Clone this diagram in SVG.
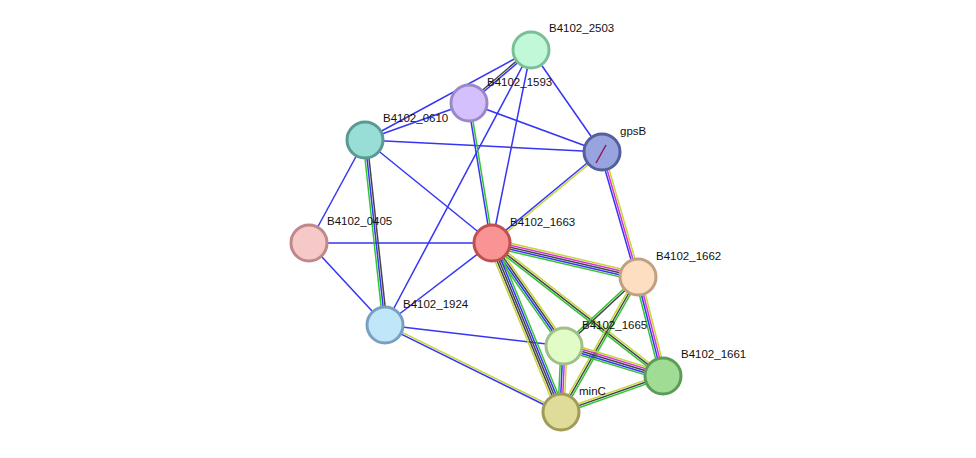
<svg xmlns="http://www.w3.org/2000/svg" width="976" height="458" viewBox="0 0 976 458">
<style>
line{stroke-width:1.5;fill:none}
.b{stroke:#3535f5}.g{stroke:#33c433}.y{stroke:#c4d63a}.m{stroke:#d633d6}.k{stroke:#454545}
circle{stroke-width:3}
text{font-family:"Liberation Sans",Arial,sans-serif;font-size:11.5px;fill:#111}
</style>
<rect width="976" height="458" fill="#fff"/>
<g id="connectors">
<line class="b" x1="531" y1="50" x2="365" y2="140"/>
<line class="b" x1="531" y1="50" x2="602" y2="152"/>
<line class="b" x1="531" y1="50" x2="492" y2="243"/>
<line class="b" x1="531" y1="50" x2="385" y2="325"/>
<line class="b" x1="469" y1="103" x2="365" y2="140"/>
<line class="b" x1="469" y1="103" x2="602" y2="152"/>
<line class="b" x1="365" y1="140" x2="602" y2="152"/>
<line class="b" x1="365" y1="140" x2="309" y2="243"/>
<line class="b" x1="365" y1="140" x2="492" y2="243"/>
<line class="b" x1="309" y1="243" x2="492" y2="243"/>
<line class="b" x1="309" y1="243" x2="385" y2="325"/>
<line class="b" x1="385" y1="325" x2="492" y2="243"/>
<line class="b" x1="385" y1="325" x2="564" y2="346"/>
<g transform="translate(531,50) rotate(139.5)"><line class="b" x1="0" y1="-1" x2="81.6" y2="-1"/><line class="k" x1="0" y1="1" x2="81.6" y2="1"/></g>
<g transform="translate(365,140) rotate(83.8)"><line class="k" x1="0" y1="-2" x2="186" y2="-2"/><line class="b" x1="0" y1="0" x2="186" y2="0"/><line class="g" x1="0" y1="2" x2="186" y2="2"/></g>
<g transform="translate(469,103) rotate(80.7)"><line class="b" x1="0" y1="1" x2="142" y2="1"/><line class="g" x1="0" y1="-1" x2="142" y2="-1"/></g>
<g transform="translate(602,152) rotate(140.4)"><line class="b" x1="0" y1="1" x2="143" y2="1"/><line class="y" x1="0" y1="-1" x2="143" y2="-1"/></g>
<g transform="translate(602,152) rotate(73.9)"><line class="b" x1="0" y1="2" x2="130" y2="2"/><line class="m" x1="0" y1="0" x2="130" y2="0"/><line class="y" x1="0" y1="-2" x2="130" y2="-2"/></g>
<g transform="translate(385,325) rotate(26.3)"><line class="b" x1="0" y1="1" x2="196" y2="1"/><line class="y" x1="0" y1="-1" x2="196" y2="-1"/></g>
<g transform="translate(492,243) rotate(13.1)"><line class="y" x1="0" y1="-4" x2="150" y2="-4"/><line class="m" x1="0" y1="-2" x2="150" y2="-2"/><line class="k" x1="0" y1="0" x2="150" y2="0"/><line class="b" x1="0" y1="2" x2="150" y2="2"/><line class="g" x1="0" y1="4" x2="150" y2="4"/></g>
<g transform="translate(492,243) rotate(55)"><line class="y" x1="0" y1="-3" x2="126" y2="-3"/><line class="k" x1="0" y1="-1" x2="126" y2="-1"/><line class="b" x1="0" y1="1" x2="126" y2="1"/><line class="g" x1="0" y1="3" x2="126" y2="3"/></g>
<g transform="translate(492,243) rotate(67.8)"><line class="g" x1="0" y1="-4" x2="182.5" y2="-4"/><line class="b" x1="0" y1="-2" x2="182.5" y2="-2"/><line class="k" x1="0" y1="0" x2="182.5" y2="0"/><line class="k" x1="0" y1="2" x2="182.5" y2="2"/><line class="y" x1="0" y1="4" x2="182.5" y2="4"/></g>
<g transform="translate(492,243) rotate(37.9)"><line class="y" x1="0" y1="-2" x2="216.6" y2="-2"/><line class="k" x1="0" y1="0" x2="216.6" y2="0"/><line class="g" x1="0" y1="2" x2="216.6" y2="2"/></g>
<g transform="translate(638,277) rotate(137)"><line class="k" x1="0" y1="-1" x2="101" y2="-1"/><line class="g" x1="0" y1="1" x2="101" y2="1"/></g>
<g transform="translate(638,277) rotate(119.7)"><line class="g" x1="0" y1="-2" x2="155.4" y2="-2"/><line class="k" x1="0" y1="0" x2="155.4" y2="0"/><line class="y" x1="0" y1="2" x2="155.4" y2="2"/></g>
<g transform="translate(638,277) rotate(75.8)"><line class="y" x1="0" y1="-3" x2="102" y2="-3"/><line class="m" x1="0" y1="-1" x2="102" y2="-1"/><line class="b" x1="0" y1="1" x2="102" y2="1"/><line class="g" x1="0" y1="3" x2="102" y2="3"/></g>
<g transform="translate(564,346) rotate(16.9)"><line class="y" x1="0" y1="-4" x2="103.4" y2="-4"/><line class="m" x1="0" y1="-2" x2="103.4" y2="-2"/><line class="k" x1="0" y1="0" x2="103.4" y2="0"/><line class="b" x1="0" y1="2" x2="103.4" y2="2"/><line class="g" x1="0" y1="4" x2="103.4" y2="4"/></g>
<g transform="translate(564,346) rotate(92.6)"><line class="g" x1="0" y1="3" x2="66" y2="3"/><line class="b" x1="0" y1="1" x2="66" y2="1"/><line class="m" x1="0" y1="-1" x2="66" y2="-1"/><line class="y" x1="0" y1="-3" x2="66" y2="-3"/></g>
<g transform="translate(663,376) rotate(160.6)"><line class="y" x1="0" y1="2" x2="108" y2="2"/><line class="k" x1="0" y1="0" x2="108" y2="0"/><line class="g" x1="0" y1="-2" x2="108" y2="-2"/></g>
</g>
<g id="B4102_2503"><circle cx="531" cy="50" r="18" fill="#c0f8d8" stroke="#7bbf98"/><text x="549" y="32">B4102_2503</text></g>
<g id="B4102_1593"><circle cx="469" cy="103" r="18" fill="#d4c0fc" stroke="#9a88c8"/><text x="487" y="86">B4102_1593</text></g>
<g id="B4102_0610"><circle cx="365" cy="140" r="18" fill="#98ddd6" stroke="#5a9a92"/><text x="383" y="122">B4102_0610</text></g>
<g id="gpsB"><circle cx="602" cy="152" r="18" fill="#98a4e0" stroke="#54609e"/><line x1="596" y1="163" x2="606" y2="145" stroke="#8a1a5a" stroke-width="1.5"/><text x="620" y="135">gpsB</text></g>
<g id="B4102_0405"><circle cx="309" cy="243" r="18" fill="#f7c8c8" stroke="#c08888"/><text x="327" y="225">B4102_0405</text></g>
<g id="B4102_1663"><circle cx="492" cy="243" r="18" fill="#fa9494" stroke="#c05050"/><text x="510" y="226">B4102_1663</text></g>
<g id="B4102_1662"><circle cx="638" cy="277" r="18" fill="#fddec0" stroke="#c0a080"/><text x="656" y="260">B4102_1662</text></g>
<g id="B4102_1924"><circle cx="385" cy="325" r="18" fill="#c0e6fa" stroke="#7aa0c0"/><text x="403" y="308">B4102_1924</text></g>
<g id="B4102_1665"><circle cx="564" cy="346" r="18" fill="#e2fcc8" stroke="#a0c088"/><text x="582" y="329">B4102_1665</text></g>
<g id="B4102_1661"><circle cx="663" cy="376" r="18" fill="#a0dc94" stroke="#5c9c58"/><text x="681" y="358">B4102_1661</text></g>
<g id="minC"><circle cx="561" cy="412" r="18" fill="#dedc98" stroke="#a09c58"/><text x="579" y="395">minC</text></g>
</svg>
